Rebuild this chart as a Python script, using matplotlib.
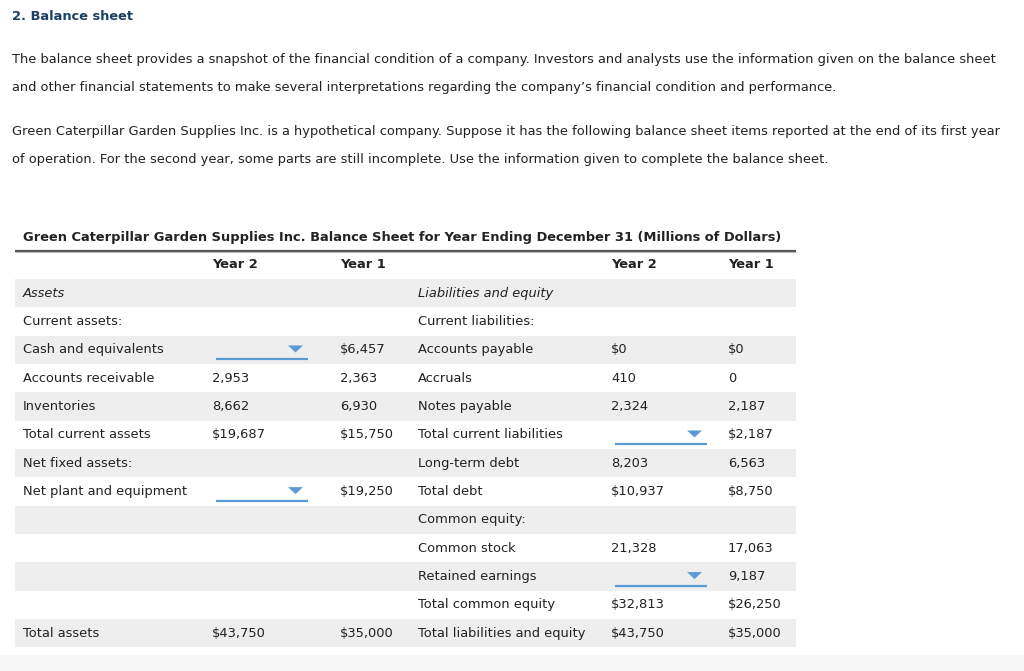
import matplotlib.pyplot as plt
from matplotlib.patches import Rectangle, Polygon

# Table content
left_labels = ["Assets", "Current assets:", "Cash and equivalents", "Accounts receivable",
               "Inventories", "Total current assets", "Net fixed assets:",
               "Net plant and equipment", "", "", "", "", "Total assets"]
left_year2 = ["", "", None, "2,953", "8,662", "$19,687", "", None, "", "", "", "", "$43,750"]
left_year1 = ["", "", "$6,457", "2,363", "6,930", "$15,750", "", "$19,250", "", "", "", "", "$35,000"]

right_labels = ["Liabilities and equity", "Current liabilities:", "Accounts payable", "Accruals",
                "Notes payable", "Total current liabilities", "Long-term debt", "Total debt",
                "Common equity:", "Common stock", "Retained earnings", "Total common equity",
                "Total liabilities and equity"]
right_year2 = ["", "", "$0", "410", "2,324", None, "8,203", "$10,937", "", "21,328", None,
               "$32,813", "$43,750"]
right_year1 = ["", "", "$0", "0", "2,187", "$2,187", "6,563", "$8,750", "", "17,063", "9,187",
               "$26,250", "$35,000"]

heading = "2. Balance sheet"
paragraphs = [
    "The balance sheet provides a snapshot of the financial condition of a company. Investors and analysts use the information given on the balance sheet",
    "and other financial statements to make several interpretations regarding the company\u2019s financial condition and performance.",
    "Green Caterpillar Garden Supplies Inc. is a hypothetical company. Suppose it has the following balance sheet items reported at the end of its first year",
    "of operation. For the second year, some parts are still incomplete. Use the information given to complete the balance sheet.",
]
table_title = "Green Caterpillar Garden Supplies Inc. Balance Sheet for Year Ending December 31 (Millions of Dollars)"

plt.rcParams['font.family'] = ['DejaVu Sans']
fs = 9.4
txt = '#222222'
blue = '#5b9bd5'

fig = plt.figure(figsize=(10.24, 6.71), dpi=100)
ax = fig.add_axes([0, 0, 1, 1])
ax.set_xlim(0, 1024)
ax.set_ylim(671, 0)
ax.axis('off')

ax.text(12, 16, heading, fontsize=fs, fontweight='bold', color='#1d3f66', va='center')
for y, p in zip([60, 87, 132, 159], paragraphs):
    ax.text(12, y, p, fontsize=fs, color=txt, va='center')

ax.text(23, 237, table_title, fontsize=fs, fontweight='bold', color=txt, va='center')
ax.plot([15, 796], [250.5, 250.5], color='#555555', lw=1.6, solid_capstyle='butt')
ax.plot([15, 796], [252.3, 252.3], color='#bbbbbb', lw=0.8, solid_capstyle='butt')

cols = [212, 340, 611, 728]
for x, h in zip(cols, ["Year 2", "Year 1", "Year 2", "Year 1"]):
    ax.text(x, 265, h, fontsize=fs, fontweight='bold', color=txt, va='center')

row0, rh = 293.3, 28.33


def dropdown(x, y):
    ax.plot([x, x + 92], [y + 9, y + 9], color=blue, lw=1.6, solid_capstyle='butt')
    ax.add_patch(Polygon([[x + 72, y - 4.5], [x + 87, y - 4.5], [x + 79.5, y + 2.5]],
                         closed=True, color=blue, lw=0))


for i in range(len(left_labels)):
    y = row0 + i * rh
    if i % 2 == 0:
        ax.add_patch(Rectangle((15, y - rh / 2), 781, rh, color='#eeeeee', lw=0, zorder=0))
    style = 'italic' if i == 0 else 'normal'
    ax.text(23, y, left_labels[i], fontsize=fs, color=txt, va='center', style=style)
    ax.text(418, y, right_labels[i], fontsize=fs, color=txt, va='center', style=style)
    for x, col in zip(cols, [left_year2, left_year1, right_year2, right_year1]):
        v = col[i]
        if v is None:
            dropdown(x + 4, y)
        else:
            ax.text(x, y, v, fontsize=fs, color=txt, va='center')

# faint grey band at the bottom
ax.add_patch(Rectangle((0, 655), 1024, 16, color='#f7f7f7', lw=0, zorder=0))

fig.savefig('out.png', dpi=100)
